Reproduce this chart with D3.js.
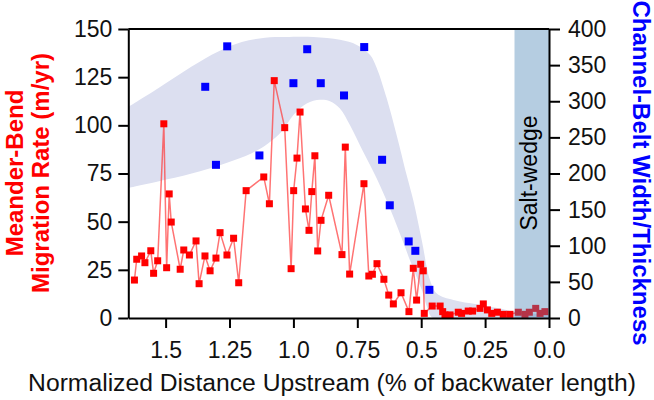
<!DOCTYPE html>
<html>
<head>
<meta charset="utf-8">
<script src="https://cdn.jsdelivr.net/npm/d3@7"></script>
<style>
  body { margin: 0; background: #fff; }
  svg { font-family: "Liberation Sans", Arial, sans-serif; }
</style>
</head>
<body>
<svg id="chart"></svg>
<script>
let width = 654;
let height = 400;
let red = "#ff0000";
let blue = "#0000ff";

// migration rate (m/yr) vs normalized distance upstream
let redX = [1.622, 1.613, 1.594, 1.581, 1.558, 1.547, 1.531, 1.507, 1.496, 1.486, 1.478, 1.443, 1.429, 1.407,
  1.381, 1.369, 1.346, 1.326, 1.303, 1.287, 1.260, 1.234, 1.214, 1.185, 1.116, 1.094, 1.075, 1.034, 1.009,
  0.999, 0.986, 0.974, 0.953, 0.939, 0.928, 0.916, 0.905, 0.892, 0.862, 0.810, 0.797, 0.780, 0.724, 0.705,
  0.691, 0.673, 0.646, 0.627, 0.609, 0.579, 0.548, 0.531, 0.518, 0.502, 0.492, 0.488, 0.457, 0.426, 0.416,
  0.407, 0.387, 0.355, 0.342, 0.316, 0.299, 0.270, 0.257, 0.241, 0.224, 0.202, 0.179, 0.153, 0.120, 0.094,
  0.077, 0.052, 0.035, 0.016];
let redY = [19.7, 30.5, 32.2, 28.7, 34.9, 23.2, 29.7, 100.8, 26.1, 64.4, 49.8, 25.3, 35.3, 32.7,
  40, 17.8, 32.2, 24.5, 31.1, 44.3, 32.7, 41.4, 18.3, 66.1, 73.2, 59.3, 123.2, 98.8, 25.6,
  66.1, 83, 106.9, 56.6, 45.5, 65.6, 84.2, 34.8, 50.7, 63.7, 32.9, 88.7, 22.8, 69.7, 21.8,
  22.7, 28.2, 20.1, 11.9, 7.3, 13.1, 3.3, 25.8, 9.3, 27.9, 24.5, 2.4, 6.2, 6.2, 3.3,
  1.6, 1.6, 3.0, 2.4, 3.6, 3.6, 5.0, 7.3, 4.2, 2.4, 3.0, 1.9, 1.9, 3.0, 1.9,
  3.0, 5.0, 2.4, 3.3];

// channel-belt width/thickness
let blueX = [1.345, 1.303, 1.259, 1.133, 1.000, 0.946, 0.893, 0.802, 0.723, 0.653, 0.623, 0.549, 0.523, 0.468];
let blueY = [320, 212, 376, 225, 325, 372, 325, 308, 375, 219, 156, 106, 93, 39];

// envelope around width/thickness
let bandUpperX = [1.646, 1.529, 1.398, 1.294, 1.202, 1.111, 1.033, 0.922, 0.818, 0.752, 0.700, 0.674, 0.635,
  0.596, 0.557, 0.531, 0.498, 0.466, 0.439, 0.374, 0.283, 0.192, 0.137, 0.0];
let bandUpperY = [292, 318, 348, 369, 382, 388, 389, 389, 385, 378, 364, 346, 304,
  253, 198, 163, 108, 53, 34, 25, 19, 13, 9, 4];
let bandLowerX = [1.646, 1.530, 1.398, 1.268, 1.163, 1.098, 1.046, 1.000, 0.948, 0.896, 0.857, 0.818, 0.779,
  0.727, 0.674, 0.609, 0.544, 0.498, 0.478, 0.454, 0.3, 0.0];
let bandLowerY = [180, 189, 200, 214, 228, 242, 258, 281, 297, 302, 300, 290, 267,
  230, 193, 140, 80, 39, 16, 0, 0, 0];

let saltWedge = [0.135, 0.0];

let xTicks = [1.5, 1.25, 1.0, 0.75, 0.5, 0.25, 0.0];
let xTickLabels = ["1.5", "1.25", "1.0", "0.75", "0.5", "0.25", "0.0"];
let leftTicks = [0, 25, 50, 75, 100, 125, 150];
let rightTicks = [0, 50, 100, 150, 200, 250, 300, 350, 400];

let pLeft = 128.3, pRight = 549, pTop = 29, pBottom = 318;

let xax = d3.scaleLinear().domain([1.646, 0]).range([pLeft, pRight]);
let yLeft = d3.scaleLinear().domain([0, 150]).range([pBottom, pTop]);
let yRight = d3.scaleLinear().domain([0, 400]).range([pBottom, pTop]);

let svg = d3.select("#chart")
  .attr("width", width)
  .attr("height", height);

svg.append("defs").append("clipPath")
  .attr("id", "plotClip")
  .append("rect")
  .attr("x", pLeft).attr("y", pTop)
  .attr("width", pRight - pLeft).attr("height", pBottom - pTop);

let plot = svg.append("g").attr("clip-path", "url(#plotClip)");

// envelope band
let bandLine = d3.line()
  .x(d => xax(d[0]))
  .y(d => yRight(d[1]))
  .curve(d3.curveCatmullRom);
let upperPts = bandUpperX.map((d, i) => [d, bandUpperY[i]]);
let lowerPts = bandLowerX.map((d, i) => [d, bandLowerY[i]]).reverse();
let bandPath = bandLine(upperPts) + "L" + bandLine(lowerPts).slice(1) + "Z";
plot.append("path")
  .attr("d", bandPath)
  .attr("fill", "#dcdff0")
  .attr("stroke", "none");

// migration rate line + markers
let redPts = redX.map((d, i) => [d, redY[i]]);
plot.append("path")
  .attr("d", d3.line().x(d => xax(d[0])).y(d => yLeft(d[1]))(redPts))
  .attr("fill", "none")
  .attr("stroke", "#ff3838")
  .attr("stroke-opacity", 0.7)
  .attr("stroke-width", 1.5);

let rs = 7;
plot.append("g").selectAll("rect")
  .data(redPts)
  .enter()
    .append("rect")
    .attr("x", d => xax(d[0]) - rs / 2)
    .attr("y", d => yLeft(d[1]) - rs / 2)
    .attr("width", rs)
    .attr("height", rs)
    .attr("fill", red);

let bs = 8;
let bluePts = blueX.map((d, i) => [d, blueY[i]]);
plot.append("g").selectAll("rect")
  .data(bluePts)
  .enter()
    .append("rect")
    .attr("x", d => xax(d[0]) - bs / 2)
    .attr("y", d => yRight(d[1]) - bs / 2)
    .attr("width", bs)
    .attr("height", bs)
    .attr("fill", blue);

// salt-wedge zone, drawn over the data
plot.append("rect")
  .attr("x", xax(saltWedge[0]))
  .attr("y", pTop)
  .attr("width", xax(saltWedge[1]) - xax(saltWedge[0]))
  .attr("height", pBottom - pTop)
  .attr("fill", "steelblue")
  .attr("fill-opacity", 0.4);

svg.append("text")
  .text("Salt-wedge")
  .attr("transform", "translate(537,173) rotate(-90)")
  .attr("text-anchor", "middle")
  .attr("font-size", 23)
  .attr("fill", "#000");

// frame
svg.append("line")
  .attr("x1", pLeft).attr("x2", pRight)
  .attr("y1", pTop).attr("y2", pTop)
  .attr("stroke", "#000").attr("stroke-width", 2);

function styleAxis(g) {
  g.selectAll("path, line").attr("stroke", "#000").attr("stroke-width", 2);
  g.selectAll("text").attr("font-size", 23).attr("fill", "#111")
    .attr("font-family", "'Liberation Sans', Arial, sans-serif");
}

let gx = svg.append("g")
  .attr("transform", `translate(0,${pBottom})`)
  .call(d3.axisBottom(xax).tickValues(xTicks)
    .tickFormat((d, i) => xTickLabels[i])
    .tickSize(10).tickSizeOuter(0).tickPadding(8));
styleAxis(gx);
gx.selectAll("text").attr("dy", null).attr("y", 40);

let gl = svg.append("g")
  .attr("transform", `translate(${pLeft},0)`)
  .call(d3.axisLeft(yLeft).tickValues(leftTicks)
    .tickSize(10).tickSizeOuter(0).tickPadding(6));
styleAxis(gl);

let gr = svg.append("g")
  .attr("transform", `translate(${pRight},0)`)
  .call(d3.axisRight(yRight).tickValues(rightTicks)
    .tickSize(11).tickSizeOuter(0).tickPadding(8));
styleAxis(gr);

// axis titles
svg.append("text")
  .text("Normalized Distance Upstream (% of backwater length)")
  .attr("x", 332)
  .attr("y", 391)
  .attr("text-anchor", "middle")
  .attr("font-size", 24.7)
  .attr("fill", "#111");

svg.append("text")
  .text("Meander-Bend")
  .attr("transform", "translate(23,173) rotate(-90)")
  .attr("text-anchor", "middle")
  .attr("font-size", 24)
  .attr("font-weight", "bold")
  .attr("fill", red);

svg.append("text")
  .text("Migration Rate (m/yr)")
  .attr("transform", "translate(49,173) rotate(-90)")
  .attr("text-anchor", "middle")
  .attr("font-size", 24)
  .attr("font-weight", "bold")
  .attr("fill", red);

svg.append("text")
  .text("Channel-Belt Width/Thickness")
  .attr("transform", "translate(633,173) rotate(90)")
  .attr("text-anchor", "middle")
  .attr("font-size", 24)
  .attr("font-weight", "bold")
  .attr("fill", blue);
</script>
</body>
</html>
